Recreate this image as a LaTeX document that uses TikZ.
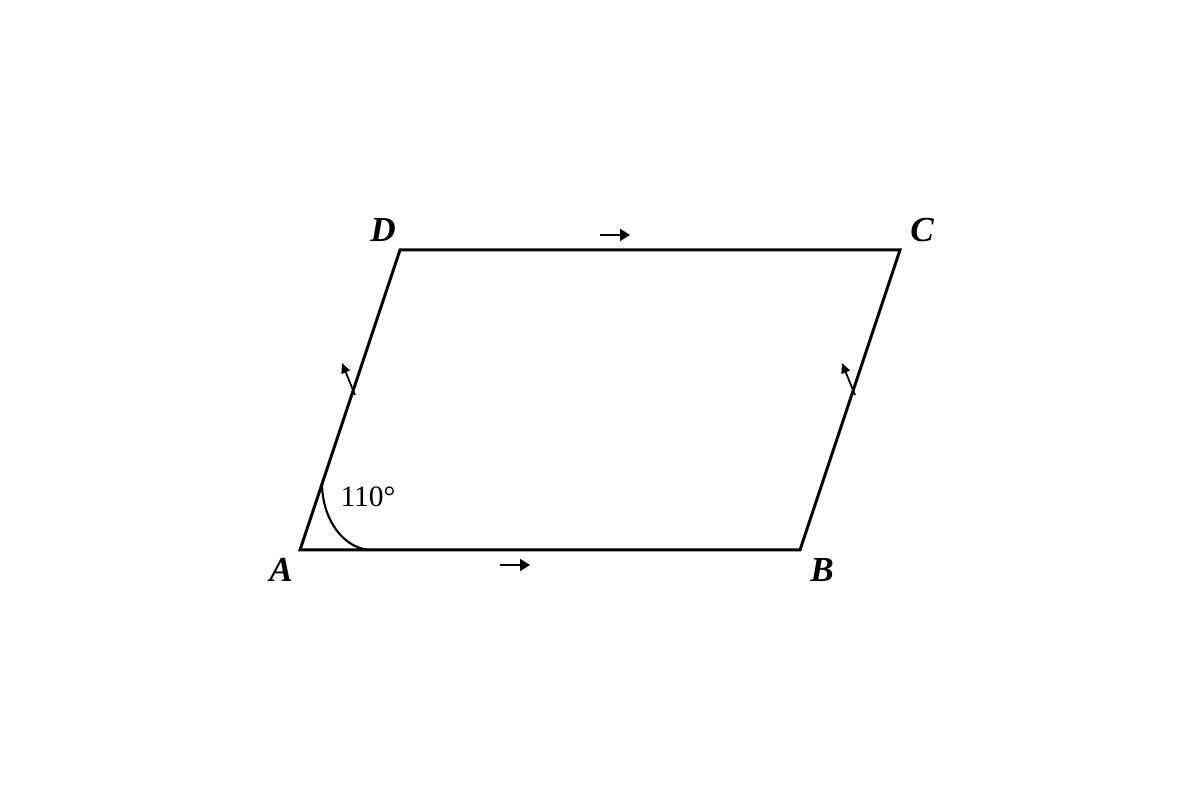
\documentclass[tikz,border=0pt]{standalone}
\usepackage{fontspec}
\setmainfont{Liberation Serif}
\usepackage{tikz}
\usetikzlibrary{calc}
\usetikzlibrary{arrows, arrows.meta}

\begin{document}
\begin{tikzpicture}

\tikzset{%
sideline/.style={line width=0.85pt, line join=miter},
parallelmark/.style={line width=0.55pt, -{Triangle[length=1mm, width=1.2mm]}},
equalmark/.style={line width=0.5pt, -{Triangle[length=1mm, width=0.9mm]}},
cornerlabel/.style={font=\fontsize{10}{12}\selectfont\bfseries\itshape, inner sep=0, outer sep=0}%
}

\useasboundingbox (0, 0) rectangle (12, 8) ;

% corners of the parallelogram
\path (3, 2.5) node [shape=coordinate] (A) {} ;
\path (8, 2.5) node [shape=coordinate] (B) {} ;
\path (9, 5.5) node [shape=coordinate] (C) {} ;
\path (4, 5.5) node [shape=coordinate] (D) {} ;

\draw [sideline] (A) -- (B) -- (C) -- (D) -- cycle ;

% angle at A
\path (3.22, 3.17) node [shape=coordinate] (angA) {} ;
\draw [line width=0.6pt] (angA) arc (180:270:0.5 and 0.67) ;
\node at (3.68, 3.03) [font=\fontsize{8.4}{10}\selectfont, inner sep=0] (anglabel) {110°} ;

% parallel marks
\path ($ (A)!0.4!(B) + (0, -0.15) $) node [shape=coordinate] (ABmarkstart) {} ;
\path ($ (A)!0.46!(B) + (0, -0.15) $) node [shape=coordinate] (ABmarkend) {} ;
\draw [parallelmark] (ABmarkstart) -- (ABmarkend) ;

\path ($ (D)!0.4!(C) + (0, 0.15) $) node [shape=coordinate] (DCmarkstart) {} ;
\path ($ (D)!0.46!(C) + (0, 0.15) $) node [shape=coordinate] (DCmarkend) {} ;
\draw [parallelmark] (DCmarkstart) -- (DCmarkend) ;

% side marks
\path (3.55, 4.05) node [shape=coordinate] (ADmarkstart) {} ;
\path (3.42, 4.37) node [shape=coordinate] (ADmarkend) {} ;
\draw [equalmark] (ADmarkstart) -- (ADmarkend) ;

\path (8.55, 4.05) node [shape=coordinate] (BCmarkstart) {} ;
\path (8.42, 4.37) node [shape=coordinate] (BCmarkend) {} ;
\draw [equalmark] (BCmarkstart) -- (BCmarkend) ;

% labels
\node at ($ (A) + (-0.19, -0.2) $) [cornerlabel] (Alabel) {A} ;
\node at ($ (B) + (0.22, -0.2) $) [cornerlabel] (Blabel) {B} ;
\node at ($ (C) + (0.22, 0.2) $) [cornerlabel] (Clabel) {C} ;
\node at ($ (D) + (-0.17, 0.2) $) [cornerlabel] (Dlabel) {D} ;

\end{tikzpicture}
\end{document}
